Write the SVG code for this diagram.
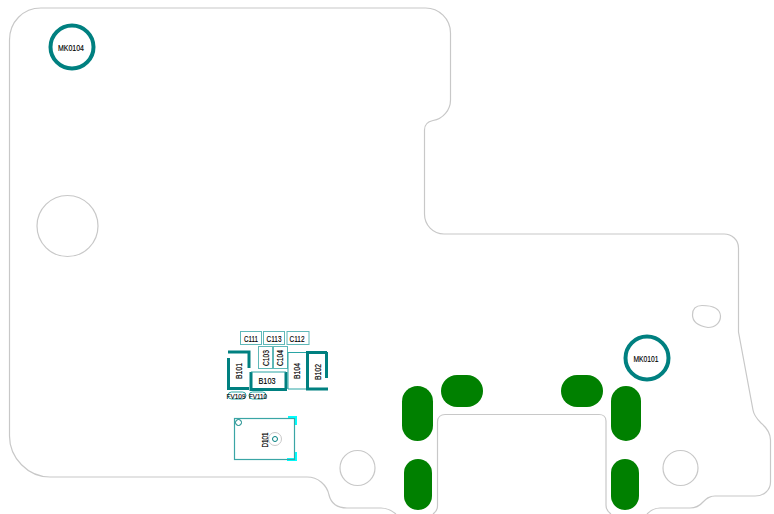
<svg xmlns="http://www.w3.org/2000/svg" width="774" height="514" viewBox="0 0 774 514">
<style>
.o{fill:none;stroke:#c8c8c8;stroke-width:1.2}
.g{fill:#008000}
.m{fill:none;stroke:#008080;stroke-width:4}
.t{fill:none;stroke:#008080;stroke-width:3}
.f{fill:none;stroke:#2aa5a5;stroke-width:1}
.l{fill:none;stroke:#5fb8b8;stroke-width:1}
.c{fill:#00ffff}
text{font-family:"Liberation Sans",Arial,sans-serif;font-size:9px;fill:#000;stroke:#000;stroke-width:.15;text-anchor:middle;dominant-baseline:central}
.s{font-size:8px}
</style>
<rect width="774" height="514" fill="#fff"/>
<g id="board">
<path class="o" d="M41 8H425A25 25 0 0 1 450.500 33V100C450.500 110 443 119 433 120.500C428 121.500 424.500 125 424.500 130V214C424.500 225 433 234 444 234H724C732 234 738.500 240 738.500 248V332L753 410C754 416 758 420 761 423C767 428 770.500 433 770.500 440V482C770.500 490 764 496 755 496H715C709 496 706 499 703 502C700 505.500 697 508 690 508H660C655 508 651 510 647 514"/>
<path class="o" d="M396 514C391 510 387 508 381 508H347C337 508 331 503 329 495C327 485 318 477 307 477H50C28 477 9.500 458 9.500 436V40C9.500 22 23 8 41 8"/>
<path class="o" d="M433 514C436 512 437.500 510 437.500 506V422C437.500 417 441 414.500 445 414.500H599C603 414.500 606 417 606 421V505C606 509 608 512 611 514"/>
<circle class="o" cx="67.500" cy="226" r="30.500"/>
<circle class="o" cx="357.500" cy="468" r="17.500"/>
<circle class="o" cx="680.500" cy="468" r="17.500"/>
<path class="o" d="M702 305.500C711 305.500 720 308 720.500 316C720.500 323 715 327.500 708 327.500C699 326 692.500 323 692.500 315C692.500 309 696 305.500 702 305.500Z"/>
</g>
<g id="pads">
<rect class="g" x="402" y="386" width="31" height="55" rx="15.500"/>
<rect class="g" x="404" y="459" width="28" height="51" rx="14"/>
<rect class="g" x="441" y="375" width="42" height="32" rx="16"/>
<rect class="g" x="561" y="375" width="42" height="32" rx="16"/>
<rect class="g" x="611" y="386" width="30" height="55" rx="15"/>
<rect class="g" x="611" y="459" width="28" height="51" rx="14"/>
</g>
<g id="MK0104"><circle class="m" cx="72" cy="47" r="21.500"/><text x="71" y="48" textLength="26" lengthAdjust="spacingAndGlyphs">MK0104</text></g>
<g id="MK0101"><circle class="m" cx="647" cy="358" r="21.500"/><text x="646" y="359" textLength="25" lengthAdjust="spacingAndGlyphs">MK0101</text></g>
<g id="C111"><rect class="l" x="240.500" y="331.500" width="21" height="13"/><text x="251" y="338.500" textLength="14" lengthAdjust="spacingAndGlyphs">C111</text></g>
<g id="C113"><rect class="l" x="263.500" y="331.500" width="21" height="13"/><text x="274" y="338.500" textLength="15" lengthAdjust="spacingAndGlyphs">C113</text></g>
<g id="C112"><rect class="l" x="287" y="331.500" width="22" height="13"/><text x="297" y="338.500" textLength="15" lengthAdjust="spacingAndGlyphs">C112</text></g>
<g id="C103"><rect class="l" x="258.500" y="346.500" width="14" height="22"/><text x="266" y="358" textLength="16" lengthAdjust="spacingAndGlyphs" transform="rotate(-90 266 358)">C103</text></g>
<g id="C104"><rect class="l" x="273.500" y="346.500" width="14" height="22"/><text x="280" y="358" textLength="16" lengthAdjust="spacingAndGlyphs" transform="rotate(-90 280 358)">C104</text></g>
<g id="B101"><path class="t" d="M228 352H249V368M228.500 358V388.500H249"/><text x="239" y="371" textLength="16" lengthAdjust="spacingAndGlyphs" transform="rotate(-90 239 371)">B101</text></g>
<g id="B103"><path class="t" d="M251 372V389.500H287M286 372V389"/><path class="f" d="M251 372H286"/><text x="267" y="380.500" textLength="17" lengthAdjust="spacingAndGlyphs">B103</text></g>
<g id="B104"><path class="f" d="M288 352.500H307M288 352V389H307"/><text x="297" y="371" textLength="16" lengthAdjust="spacingAndGlyphs" transform="rotate(-90 297 371)">B104</text></g>
<g id="B102"><path class="t" d="M327 352.500H307.500V389H328M326.500 352V378"/><text x="318" y="372" textLength="16" lengthAdjust="spacingAndGlyphs" transform="rotate(-90 318 372)">B102</text></g>
<g id="FV109"><rect x="228" y="392" width="18" height="7" rx="3.500" fill="none" stroke="#2aa5a5"/><text class="s" x="236" y="396" textLength="19" lengthAdjust="spacingAndGlyphs">FV109</text></g>
<g id="FV110"><rect x="249" y="392" width="17" height="7" rx="3.500" fill="none" stroke="#2aa5a5"/><text class="s" x="258" y="396" textLength="18" lengthAdjust="spacingAndGlyphs">FV110</text></g>
<g id="D101">
<path class="c" d="M288 416H297V425H294V419H288ZM294 452H297V461H287V458H294Z"/>
<rect x="234.500" y="418.500" width="60" height="41" fill="none" stroke="#3aa5a5" stroke-width="1.200"/>
<circle cx="238.500" cy="422.500" r="3" fill="#fff" stroke="#008080"/>
<circle cx="275" cy="439" r="6.500" fill="none" stroke="#c8c8c8"/>
<circle cx="275" cy="439" r="2.500" fill="none" stroke="#008080"/>
<text x="264.500" y="440" textLength="15" lengthAdjust="spacingAndGlyphs" transform="rotate(-90 264.500 440)">D101</text>
</g>
<g id="connectors"/>
</svg>
